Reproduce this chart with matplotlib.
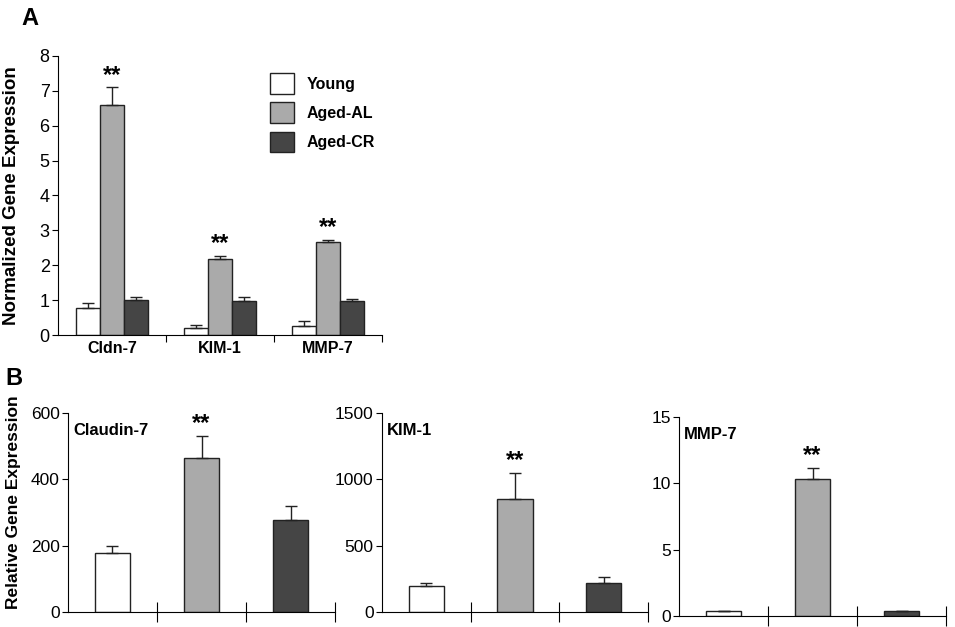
import numpy as np
import matplotlib.pyplot as plt

plt.rcParams['font.family'] = ['Liberation Sans', 'DejaVu Sans']

# -------- data --------
groups = ["Young", "Aged-AL", "Aged-CR"]
colors = ["#ffffff", "#aaaaaa", "#454545"]

# panel A: normalized expression (mean, upper error)
genes_a = ["Cldn-7", "KIM-1", "MMP-7"]
young_a = [0.77, 0.19, 0.27]
aged_al_a = [6.60, 2.17, 2.68]
aged_cr_a = [1.00, 0.98, 0.98]
young_a_err = [0.16, 0.09, 0.12]
aged_al_a_err = [0.50, 0.10, 0.04]
aged_cr_a_err = [0.10, 0.10, 0.05]

# panel B: relative expression per gene
titles_b = ["Claudin-7", "KIM-1", "MMP-7"]
values_b = [[178, 463, 277], [195, 850, 220], [0.4, 10.3, 0.4]]
errors_b = [[22, 67, 43], [25, 195, 42], [0.0, 0.85, 0.0]]
ylims_b = [600, 1500, 15]
yticks_b = [[0, 200, 400, 600], [0, 500, 1000, 1500], [0, 5, 10, 15]]

fig = plt.figure(figsize=(9.55, 6.27), dpi=100)

# -------- panel A --------
ax = fig.add_axes([0.0607, 0.4657, 0.3393, 0.445])
x = np.arange(len(genes_a)) + 0.5
w = 0.22
series = [(young_a, young_a_err), (aged_al_a, aged_al_a_err), (aged_cr_a, aged_cr_a_err)]
for i, (vals, err) in enumerate(series):
    ax.bar(x + (i - 1) * w, vals, w, color=colors[i], edgecolor="#222222",
           linewidth=1, label=groups[i], zorder=2,
           yerr=[np.zeros(len(vals)), err], capsize=4,
           error_kw=dict(elinewidth=1, capthick=1, ecolor="#222222"))
for j in range(3):
    top = aged_al_a[j] + aged_al_a_err[j]
    ax.text(x[j], top + 0.02, "**", ha="center", va="bottom", fontsize=17, fontweight="bold")
ax.set_xlim(0, 3)
ax.set_ylim(0, 8)
ax.set_yticks(range(9))
ax.set_xticks([1, 2, 3])
ax.set_xticklabels([])
ax.set_xticks(x, minor=True)
ax.set_xticklabels(genes_a, minor=True, fontsize=11.5, fontweight="bold")
ax.tick_params(axis="x", which="minor", length=0, pad=4)
ax.tick_params(axis="x", which="major", length=5, direction="out")
ax.tick_params(axis="y", labelsize=13, length=4, pad=2)
for s in ["top", "right"]:
    ax.spines[s].set_visible(False)
ax.set_ylabel("Normalized Gene Expression", fontsize=13.5, fontweight="bold", labelpad=14)
ax.legend(loc="upper left", bbox_to_anchor=(0.61, 0.99), frameon=False,
          prop=dict(weight="bold", size=11.5), handlelength=1.5, handleheight=1.6,
          labelspacing=0.55, handletextpad=0.8)
fig.text(0.031, 0.97, "A", fontsize=17, fontweight="bold", ha="center", va="center")

# -------- panel B --------
boxes = [[0.0712, 0.0239, 0.2796, 0.3174],
         [0.4, 0.0239, 0.2785, 0.3174],
         [0.711, 0.0175, 0.2796, 0.3175]]
for k in range(3):
    axb = fig.add_axes(boxes[k])
    xb = np.arange(3) + 0.5
    axb.bar(xb, values_b[k], 0.4, color=colors, edgecolor="#222222", linewidth=1, zorder=2)
    axb.errorbar(xb, values_b[k], yerr=[np.zeros(3), errors_b[k]], fmt="none",
                 ecolor="#222222", elinewidth=1, capsize=4, capthick=1)
    top = values_b[k][1] + errors_b[k][1]
    axb.text(xb[1], top + ylims_b[k] * 0.005, "**", ha="center", va="bottom",
             fontsize=17, fontweight="bold")
    axb.text(0.06, ylims_b[k] * 0.95, titles_b[k], ha="left", va="top",
             fontsize=12, fontweight="bold")
    axb.set_xlim(0, 3)
    axb.set_ylim(0, ylims_b[k])
    axb.set_yticks(yticks_b[k])
    axb.set_xticks([1, 2, 3])
    axb.set_xticklabels([])
    axb.tick_params(axis="x", length=14, direction="inout")
    axb.tick_params(axis="y", labelsize=12.5, length=4, pad=2)
    for s in ["top", "right"]:
        axb.spines[s].set_visible(False)
    if k == 0:
        axb.set_ylabel("Relative Gene Expression", fontsize=12.5, fontweight="bold")
        axb.yaxis.set_label_coords(-0.175, 0.55)
fig.text(0.015, 0.397, "B", fontsize=17, fontweight="bold", ha="center", va="center")

fig.savefig("out.png", dpi=100)
